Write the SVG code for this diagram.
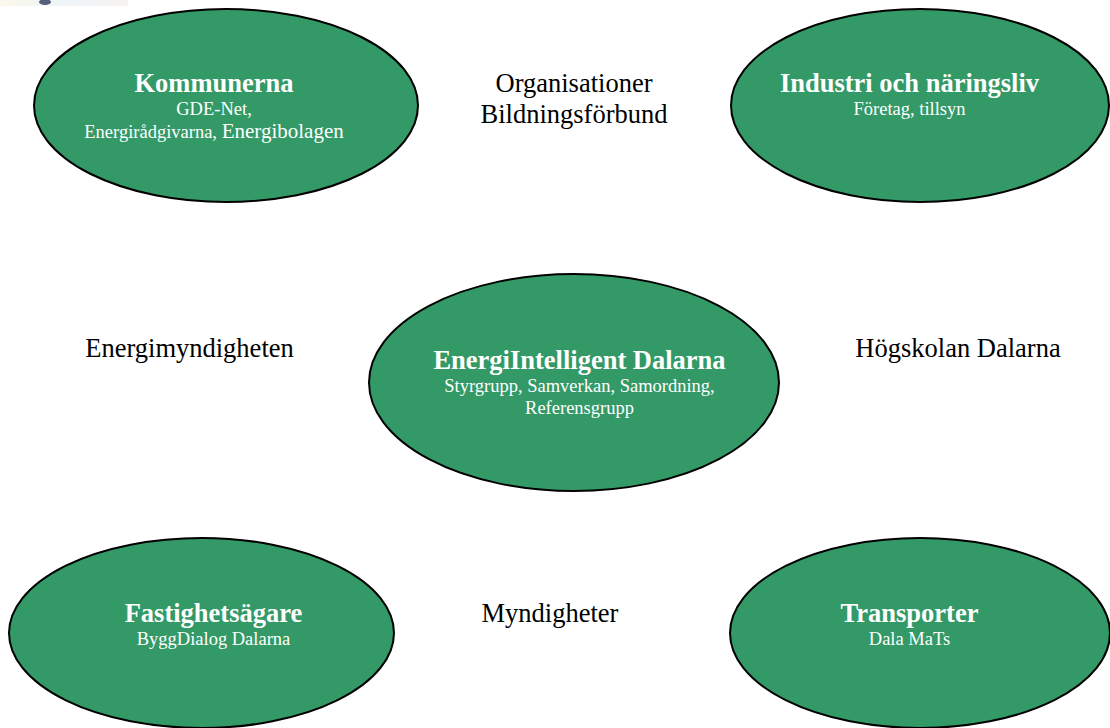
<svg xmlns="http://www.w3.org/2000/svg" width="1110" height="728" viewBox="0 0 1110 728">
<style>
  .node { fill: #339966; stroke: #000000; stroke-width: 2; }
  .title { font-family: "Liberation Serif", "Times New Roman", serif; font-weight: bold; font-size: 26.5px; fill: #ffffff; text-anchor: middle; }
  .sub { font-family: "Liberation Serif", "Times New Roman", serif; font-size: 18.5px; fill: #ffffff; text-anchor: middle; }
  .label { font-family: "Liberation Serif", "Times New Roman", serif; font-size: 26.5px; fill: #000000; text-anchor: middle; }
</style>
<defs>
  <linearGradient id="strip" x1="0" y1="0" x2="1" y2="0">
    <stop offset="0" stop-color="#fbf8ec"/>
    <stop offset="0.5" stop-color="#eef4f8"/>
    <stop offset="1" stop-color="#f7f2f0"/>
  </linearGradient>
</defs>
<rect width="1110" height="728" fill="#ffffff"/>
<g id="logo-fragment">
  <rect x="0" y="0" width="128" height="6" fill="url(#strip)"/>
  <ellipse cx="45" cy="2" rx="6" ry="3" fill="#2a3a5c" opacity="0.8"/>
</g>
<g id="connectors"></g>
<g id="node-kommunerna">
  <ellipse class="node" cx="226" cy="105.5" rx="192" ry="96.5"/>
  <text class="title" x="214" y="92">Kommunerna</text>
  <text class="sub" x="214" y="115">GDE-Net,</text>
  <text class="sub" x="214" y="138">Energirådgivarna, <tspan font-size="21px">Energibolagen</tspan></text>
</g>
<g id="node-industri">
  <ellipse class="node" cx="920" cy="105.5" rx="189" ry="96.5"/>
  <text class="title" x="909.5" y="92">Industri och näringsliv</text>
  <text class="sub" x="909.5" y="115">Företag, tillsyn</text>
</g>
<g id="node-center">
  <ellipse class="node" cx="574" cy="382.5" rx="205" ry="108.5"/>
  <text class="title" x="579.5" y="369">EnergiIntelligent Dalarna</text>
  <text class="sub" x="579.5" y="392">Styrgrupp, Samverkan, Samordning,</text>
  <text class="sub" x="579.5" y="413.5">Referensgrupp</text>
</g>
<g id="node-fastighet">
  <ellipse class="node" cx="201.5" cy="633" rx="192.5" ry="95"/>
  <text class="title" x="213.5" y="622">Fastighetsägare</text>
  <text class="sub" x="213.5" y="645">ByggDialog Dalarna</text>
</g>
<g id="node-transporter">
  <ellipse class="node" cx="920" cy="633" rx="190" ry="95"/>
  <text class="title" x="909.5" y="622">Transporter</text>
  <text class="sub" x="909.5" y="645">Dala MaTs</text>
</g>
<g id="labels">
  <text class="label" x="574" y="92">Organisationer</text>
  <text class="label" x="574" y="123">Bildningsförbund</text>
  <text class="label" x="189.5" y="357">Energimyndigheten</text>
  <text class="label" x="958" y="357">Högskolan Dalarna</text>
  <text class="label" x="550" y="622">Myndigheter</text>
</g>
</svg>
